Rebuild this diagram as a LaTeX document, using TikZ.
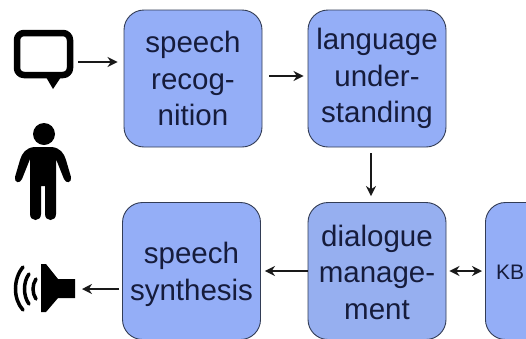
\documentclass[tikz,border=0pt]{standalone}
\usepackage{fontspec}
\setmainfont{Liberation Sans}
\usetikzlibrary{arrows.meta}
\definecolor{boxblue}{RGB}{148,174,247}
\definecolor{boxblueb}{RGB}{150,175,240}
\definecolor{boxline}{RGB}{50,60,85}
\definecolor{boxtext}{RGB}{22,28,60}
\tikzset{
  x=1pt,y=-1pt,
  module/.style={draw=boxline,line width=0.9pt,rounded corners=20pt,fill=boxblue,
    minimum width=138pt,minimum height=137pt,align=center,inner sep=0pt,text=boxtext,
    font=\fontsize{29.5}{36.5}\selectfont},
  link/.style={line width=2pt,draw=black!90,-{Stealth[length=10pt,width=10pt]}},
  biglink/.style={link,{Stealth[length=10pt,width=10pt]}-{Stealth[length=10pt,width=10pt]}},
  iconline/.style={draw=black,line cap=round,fill=none}
}
\begin{document}
\begin{tikzpicture}
\useasboundingbox (0,0) rectangle (526,338);
\clip (0,0) rectangle (526,338);
\fill[white] (0,0) rectangle (526,338);
\node[module] (rec) at (193,78.5) {speech\\recog-\\nition};
\node[module] (und) at (377,78.5) {language\\under-\\standing};
\node[module,fill=boxblueb] (dia) at (377,271) {\rule{0pt}{24pt}dialogue\\manage-\\ment};
\node[module] (syn) at (191.5,271) {\rule{0pt}{28pt}speech\\synthesis};
\node[module,minimum width=90pt,anchor=west,text width=0pt] (kb) at (485,271) {};
\node[text=boxtext,font=\fontsize{21}{22}\selectfont,inner sep=0pt] (kbt) at (510,272) {KB};
% speech bubble
\draw[line width=6.5pt,line join=round,rounded corners=7pt] (17,33) -- (70,33) -- (70,75) -- (17,75) -- cycle;
\fill (46,77) -- (61,77) -- (53,89) -- cycle;
\coordinate (bubble) at (78,62);
% person
\fill (44,134) circle (11);
\fill (34,147) .. controls (26,148) and (22,153) .. (20,160)
  -- (15,177) .. controls (14,183) and (20,184) .. (22,179)
  -- (30,159) -- (30,214) .. controls (30,222) and (41,222) .. (41,214)
  -- (41,186) -- (45,186) -- (45,214) .. controls (45,222) and (56,222) .. (56,214)
  -- (56,159) -- (64,179) .. controls (66,184) and (72,183) .. (71,177)
  -- (66,160) .. controls (64,153) and (60,148) .. (52,147) -- cycle;
% speaker
\fill (41,264) -- (46,264) -- (58,279) -- (75,279) -- (75,298) -- (58,298) -- (46,312) -- (41,312) -- cycle;
\coordinate (speaker) at (82,289);
\draw[iconline,line width=3.5pt] (36,279) .. controls (32,285) and (32,293) .. (36,299);
\draw[iconline,line width=3.5pt] (29,274) .. controls (23,282) and (23,296) .. (29,304);
\draw[iconline,line width=3.5pt] (23,267) .. controls (13,279) and (13,299) .. (23,310);
% connectors
\draw[link] (bubble) -- ([xshift=-6pt]rec.west |- bubble);
\draw[link] ([xshift=7pt,yshift=2.5pt]rec.east) -- ([xshift=-4pt,yshift=2.5pt]und.west);
\draw[link] ([xshift=-6pt,yshift=-6pt]und.south) -- ([xshift=-6pt,yshift=6pt]dia.north);
\draw[link] (dia.west) -- ([xshift=4pt]syn.east);
\draw[biglink] ([xshift=3pt]dia.east) -- ([xshift=-3pt]kb.west);
\draw[link] ([xshift=-3pt]syn.west |- speaker) -- (speaker);
\end{tikzpicture}
\end{document}
